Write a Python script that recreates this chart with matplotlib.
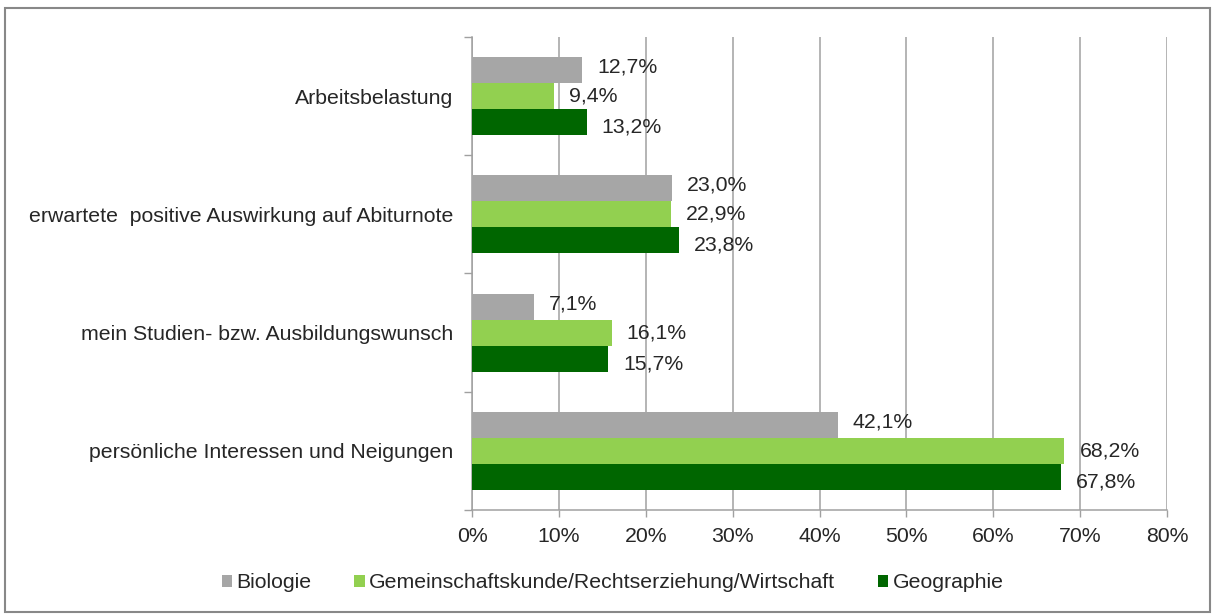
import matplotlib
matplotlib.use("Agg")
import matplotlib.pyplot as plt
from matplotlib.patches import Rectangle
import numpy as np

plt.rcParams['font.family'] = ['Liberation Sans', 'DejaVu Sans']

categories = ["Arbeitsbelastung",
              "erwartete  positive Auswirkung auf Abiturnote",
              "mein Studien- bzw. Ausbildungswunsch",
              "persönliche Interessen und Neigungen"]
series_names = ["Biologie", "Gemeinschaftskunde/Rechtserziehung/Wirtschaft", "Geographie"]
biologie = [12.7, 23.0, 7.1, 42.1]
gemeinschaft = [9.4, 22.9, 16.1, 68.2]
geographie = [13.2, 23.8, 15.7, 67.8]
xticks = [0, 10, 20, 30, 40, 50, 60, 70, 80]

colors = ["#A6A6A6", "#92D050", "#006600"]
series = [biologie, gemeinschaft, geographie]
FS = 15.3

fig = plt.figure(figsize=(12.13, 6.15), dpi=100)
ax = fig.add_axes([472/1213, 1-510/615, (1167-472)/1213, (510-37)/615])

n = len(categories)
ypos = np.arange(n)[::-1]  # first category at top
h = 0.22
offsets = [-h, 0, h]
label_dy = [-3, 0, 5]
for s, (vals, col, name) in enumerate(zip(series, colors, series_names)):
    yy = ypos - offsets[s]
    ax.barh(yy, vals, height=h, color=col, label=name, zorder=3)
    for y, v in zip(yy, vals):
        ax.annotate(f"{v:.1f}%".replace(".", ","), xy=(v, y), xytext=(15, -label_dy[s]),
                    textcoords="offset pixels", va="center", ha="left",
                    fontsize=FS, color="#262626", zorder=4)

ax.set_xlim(0, 80)
ax.set_ylim(-0.5, n - 0.5)
ax.set_xticks(xticks)
ax.set_xticklabels([f"{t}%" for t in xticks], fontsize=FS, color="#262626")
ax.set_yticks(ypos)
ax.set_yticklabels(categories, fontsize=FS, color="#262626")
ax.set_yticks(np.arange(-0.5, n, 1.0), minor=True)
ax.tick_params(axis='y', which='major', length=0, pad=13.5)
ax.tick_params(axis='y', which='minor', length=6, color="#A0A0A0", width=1)
ax.tick_params(axis='x', which='major', length=5, color="#A0A0A0", width=1, pad=7)
ax.grid(axis='x', color="#A0A0A0", linewidth=1.1, zorder=0)
for sp in ['top', 'right']:
    ax.spines[sp].set_visible(False)
for sp in ['left', 'bottom']:
    ax.spines[sp].set_color("#A0A0A0")
    ax.spines[sp].set_linewidth(1.1)

leg = fig.legend(loc='center', bbox_to_anchor=(0.505, 1-583/615), ncol=3, frameon=False,
                 fontsize=FS, handlelength=0.5, handleheight=0.5, handletextpad=0.2,
                 columnspacing=2.0)
for t in leg.get_texts():
    t.set_color("#262626")

fig.patches.append(Rectangle((5/1213, 3/615), 1205/1213, 604/615, transform=fig.transFigure,
                             fill=False, edgecolor="#888888", linewidth=1.5))

fig.savefig("out.png", dpi=100)
